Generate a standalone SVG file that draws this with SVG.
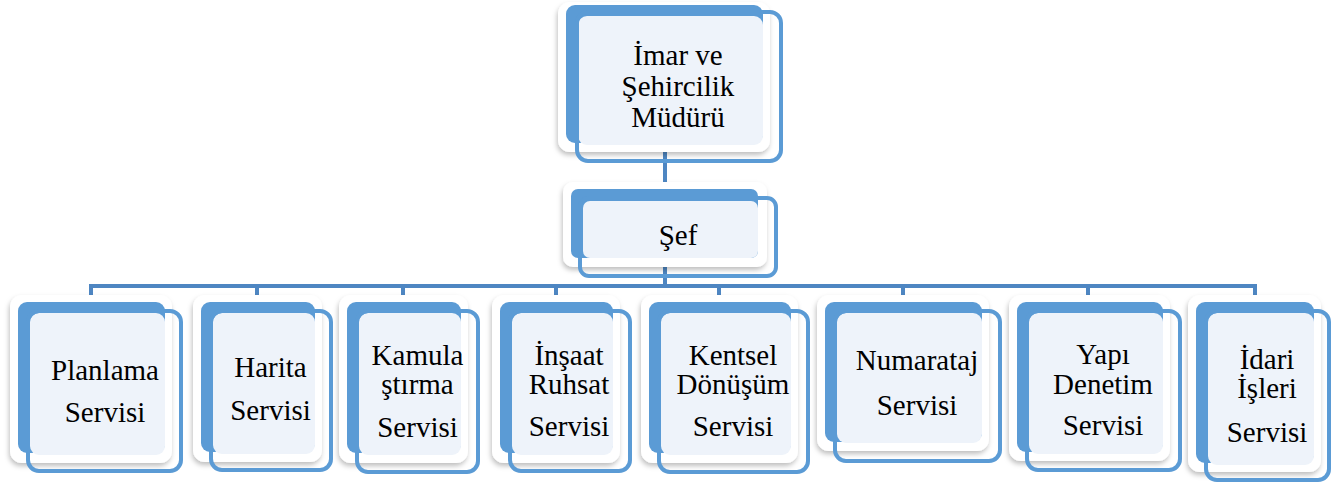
<svg xmlns="http://www.w3.org/2000/svg" width="1343" height="484" viewBox="0 0 1343 484">
<defs>
<filter id="sh" x="-10%" y="-10%" width="120%" height="125%">
<feDropShadow dx="-1" dy="3" stdDeviation="2.5" flood-color="#000" flood-opacity="0.25"/>
</filter>
</defs>
<style>
.outer{fill:#fff;filter:url(#sh)}
.back{fill:#5B9BD5}
.panel{fill:#EEF3FA}
.frame{fill:none;stroke:#5B9BD5;stroke-width:4}
.lbl{font-size:29px;fill:#000;text-anchor:middle}
.conn{fill:none;stroke:#4E86C2;stroke-width:4}
</style>
<rect width="1343" height="484" fill="#fff"/>
<g id="connectors">
<path class="conn" d="M665,148 V190"/>
<path class="conn" d="M665,262 V286"/>
<path class="conn" d="M91,298 V286 H1255 V298"/>
<path class="conn" d="M257,286 V298 M403,286 V298 M556,286 V298 M719,286 V298 M903,286 V298 M1088,286 V298"/>
</g>
<g font-family="Liberation Serif, DejaVu Serif, serif">
<g id="node-mudur">
<rect class="outer" x="558" y="2" width="212" height="150" rx="12"/>
<rect class="back" x="566" y="5" width="197" height="138" rx="9"/>
<rect class="panel" x="578" y="16" width="185" height="129" rx="9"/>
<rect class="frame" x="577" y="12" width="204" height="149" rx="11"/>
<text class="lbl" x="678" y="65">İmar ve</text>
<text class="lbl" x="678" y="96">Şehircilik</text>
<text class="lbl" x="678" y="127">Müdürü</text>
</g>
<g id="node-sef">
<rect class="outer" x="563" y="182" width="204" height="85" rx="10"/>
<rect class="back" x="571" y="189" width="187" height="69" rx="7"/>
<rect class="panel" x="583" y="201" width="175" height="57" rx="7"/>
<rect class="frame" x="580" y="198" width="196" height="78" rx="9"/>
<text class="lbl" x="678" y="245">Şef</text>
</g>
<g id="node-planlama">
<rect class="outer" x="10" y="295" width="162" height="168" rx="12"/>
<rect class="back" x="18" y="302" width="147" height="151" rx="9"/>
<rect class="panel" x="30" y="313" width="135" height="142" rx="9"/>
<rect class="frame" x="28" y="311" width="153" height="160" rx="11"/>
<text class="lbl" x="105" y="380">Planlama</text>
<text class="lbl" x="105" y="421.5">Servisi</text>
</g>
<g id="node-harita">
<rect class="outer" x="193" y="295" width="129" height="167" rx="12"/>
<rect class="back" x="201" y="302" width="114" height="150" rx="9"/>
<rect class="panel" x="213" y="313" width="102" height="141" rx="9"/>
<rect class="frame" x="211" y="311" width="120" height="159" rx="11"/>
<text class="lbl" x="270.5" y="377">Harita</text>
<text class="lbl" x="270.5" y="420">Servisi</text>
</g>
<g id="node-kamulastirma">
<rect class="outer" x="339" y="295" width="129" height="168" rx="12"/>
<rect class="back" x="347" y="302" width="114" height="151" rx="9"/>
<rect class="panel" x="359" y="313" width="102" height="142" rx="9"/>
<rect class="frame" x="357" y="311" width="121" height="161" rx="11"/>
<text class="lbl" x="417.5" y="365">Kamula</text>
<text class="lbl" x="417.5" y="394">ştırma</text>
<text class="lbl" x="417.5" y="436.5">Servisi</text>
</g>
<g id="node-insaat">
<rect class="outer" x="492" y="295" width="128" height="168" rx="12"/>
<rect class="back" x="500" y="302" width="113" height="151" rx="9"/>
<rect class="panel" x="512" y="313" width="101" height="142" rx="9"/>
<rect class="frame" x="510" y="311" width="120" height="160" rx="11"/>
<text class="lbl" x="569" y="364.5">İnşaat</text>
<text class="lbl" x="569" y="394">Ruhsat</text>
<text class="lbl" x="569" y="435.5">Servisi</text>
</g>
<g id="node-kentsel">
<rect class="outer" x="641" y="295" width="157" height="168" rx="12"/>
<rect class="back" x="649" y="302" width="142" height="151" rx="9"/>
<rect class="panel" x="661" y="313" width="130" height="142" rx="9"/>
<rect class="frame" x="659" y="311" width="149" height="161" rx="11"/>
<text class="lbl" x="733" y="365">Kentsel</text>
<text class="lbl" x="733" y="394">Dönüşüm</text>
<text class="lbl" x="733" y="435.5">Servisi</text>
</g>
<g id="node-numarataj">
<rect class="outer" x="817" y="295" width="172" height="156" rx="12"/>
<rect class="back" x="825" y="302" width="157" height="140" rx="9"/>
<rect class="panel" x="837" y="313" width="145" height="130" rx="9"/>
<rect class="frame" x="835" y="311" width="165" height="150" rx="11"/>
<text class="lbl" x="917" y="370">Numarataj</text>
<text class="lbl" x="917" y="415">Servisi</text>
</g>
<g id="node-yapi">
<rect class="outer" x="1009" y="295" width="161" height="166" rx="12"/>
<rect class="back" x="1017" y="302" width="146" height="150" rx="9"/>
<rect class="panel" x="1029" y="313" width="134" height="141" rx="9"/>
<rect class="frame" x="1027" y="311" width="153" height="159" rx="11"/>
<text class="lbl" x="1103" y="364">Yapı</text>
<text class="lbl" x="1103" y="394">Denetim</text>
<text class="lbl" x="1103" y="435">Servisi</text>
</g>
<g id="node-idari">
<rect class="outer" x="1188" y="295" width="133" height="177" rx="12"/>
<rect class="back" x="1196" y="302" width="118" height="161" rx="9"/>
<rect class="panel" x="1208" y="313" width="106" height="152" rx="9"/>
<rect class="frame" x="1206" y="311" width="123" height="169" rx="11"/>
<text class="lbl" x="1267" y="369">İdari</text>
<text class="lbl" x="1267" y="398">İşleri</text>
<text class="lbl" x="1267" y="441.5">Servisi</text>
</g>
</g>
</svg>
